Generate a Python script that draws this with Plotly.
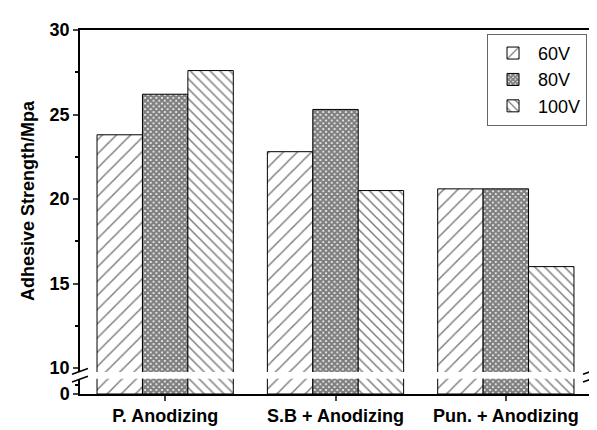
import plotly.graph_objects as go
from plotly.subplots import make_subplots

categories = ["P. Anodizing", "S.B + Anodizing", "Pun. + Anodizing"]
series_names = ["60V", "80V", "100V"]
v60 = [23.8, 22.8, 20.6]
v80 = [26.2, 25.3, 20.6]
v100 = [27.6, 20.5, 16.0]
series_values = [v60, v80, v100]
upper_ticks = [10, 15, 20, 25, 30]
lower_ticks = [0]

patterns = [
    dict(shape="/", size=10, solidity=0.15, fgcolor="black", bgcolor="white"),
    dict(shape="x", size=4, solidity=0.8, fgcolor="black", bgcolor="white"),
    dict(shape="\\", size=7, solidity=0.22, fgcolor="black", bgcolor="white"),
]

W, H = 597, 430
L, R, T, B = 72, 12, 19, 32
ph = H - T - B
pw = W - L - R

def py(p):  # pixel y -> paper y
    return (H - B - p) / ph

def px(p):
    return (p - L) / pw

fig = make_subplots(rows=2, cols=1, shared_xaxes=True, vertical_spacing=0)

for name, vals, pat in zip(series_names, series_values, patterns):
    for row in (1, 2):
        fig.add_trace(go.Bar(
            x=categories, y=vals, name=name,
            marker=dict(color="white", pattern=pat, line=dict(color="black", width=1)),
            showlegend=(row == 1), legendgroup=name,
        ), row=row, col=1)

FAM = "Liberation Sans, Arial"

fig.update_layout(
    width=W, height=H,
    margin=dict(l=L, r=R, t=T, b=B),
    plot_bgcolor="white", paper_bgcolor="white",
    barmode="group", bargap=0.2, bargroupgap=0,
    legend=dict(x=px(581), y=py(23), xanchor="right", yanchor="top",
                bordercolor="#666666", borderwidth=1, bgcolor="white",
                font=dict(family=FAM, size=18, color="black"),
                tracegroupgap=0, itemwidth=40),
    yaxis=dict(domain=[py(375), 1.0], range=[9.77, 30],
               tickvals=upper_ticks, ticks="outside", ticklen=5, tickwidth=1.5,
               minor=dict(dtick=2.5, tick0=10, ticks="outside", ticklen=3, tickcolor="black"),
               showline=True, linecolor="black", linewidth=1.5, mirror=True,
               showgrid=False, zeroline=False,
               tickfont=dict(family=FAM, size=18, color="black", weight="bold"),
               title=dict(text="<b>Adhesive Strength/Mpa</b>",
                          font=dict(family=FAM, size=18, color="black"),
                          standoff=10)),
    yaxis2=dict(domain=[0, py(382)], range=[0, 9],
                tickvals=lower_ticks, ticks="outside", ticklen=5, tickwidth=1.5,
                minor=dict(tickvals=[5], ticks="outside", ticklen=3, tickcolor="black"),
                showline=True, linecolor="black", linewidth=1.5, mirror=True,
                showgrid=False, zeroline=False,
                tickfont=dict(family=FAM, size=18, color="black", weight="bold")),
    xaxis=dict(range=[-0.5, 2.5], showline=True, linecolor="black", linewidth=1.5,
               side="top", showticklabels=False, ticks="", showgrid=False),
    xaxis2=dict(range=[-0.5, 2.5], showline=True, linecolor="black", linewidth=1.5,
                ticks="outside", ticklen=5, tickwidth=1.5, showgrid=False,
                tickfont=dict(family=FAM, size=18, color="black", weight="bold")),
)

# axis break marks
for xc in (72, 585):
    for yc in (374.5, 382.5):
        fig.add_shape(type="line", xref="paper", yref="paper",
                      x0=px(xc - 8), y0=py(yc + 3), x1=px(xc + 8), y1=py(yc - 3),
                      line=dict(color="black", width=1.5))

fig.write_html("out.html")
